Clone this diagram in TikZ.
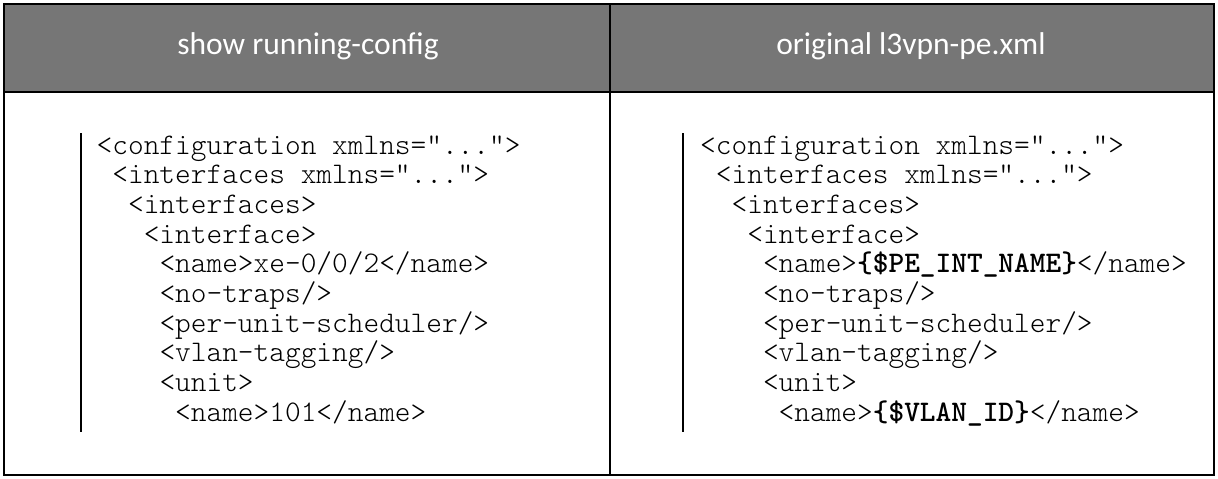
\documentclass[tikz,border=0pt]{standalone}
\usepackage{fontspec}
\setmainfont{Carlito}
\setmonofont{lmmonolt10-regular.otf}[BoldFont=lmmonolt10-bold.otf]
\definecolor{hdrgray}{HTML}{767676}
\begin{document}
\begin{tikzpicture}[x=1pt,y=-1pt,
  hdr/.style={font=\fontsize{31.5}{35}\selectfont, text=white, anchor=base, inner sep=0pt},
  code/.style={font=\ttfamily\fontsize{29.9}{30}\selectfont, anchor=base west, inner sep=0pt},
  frame/.style={line width=2pt, draw=black},
  bar/.style={line width=2pt, draw=black}]
\useasboundingbox (0,0) rectangle (1218,479);
\fill[hdrgray] (4,4) rectangle (1214,92);
\draw[frame] (4,4) rectangle (1214,475);
\draw[frame] (4,92) -- (1214,92);
\draw[frame] (610,4) -- (610,475);
\node[hdr] (h1) at (308,54) {show running-config};
\node[hdr] (h2) at (911,54) {original l3vpn-pe.xml};
\def\ch{15.7}
\def\ls{29.7}
\def\yo{154}
% left column
\coordinate (lbt) at (81,133);
\coordinate (lbb) at (81,432);
\draw[bar] (lbt) -- (lbb);
\node[code] (l1) at (96.5,\yo) {<configuration xmlns="...">};
\node[code] (l2) at (96.5+1*\ch,\yo+1*\ls) {<interfaces xmlns="...">};
\node[code] (l3) at (96.5+2*\ch,\yo+2*\ls) {<interfaces>};
\node[code] (l4) at (96.5+3*\ch,\yo+3*\ls) {<interface>};
\node[code] (l5) at (96.5+4*\ch,\yo+4*\ls) {<name>xe-0/0/2</name>};
\node[code] (l6) at (96.5+4*\ch,\yo+5*\ls) {<no-traps/>};
\node[code] (l7) at (96.5+4*\ch,\yo+6*\ls) {<per-unit-scheduler/>};
\node[code] (l8) at (96.5+4*\ch,\yo+7*\ls) {<vlan-tagging/>};
\node[code] (l9) at (96.5+4*\ch,\yo+8*\ls) {<unit>};
\node[code] (l10) at (96.5+5*\ch,\yo+9*\ls) {<name>101</name>};
% right column
\coordinate (rbt) at (683,133);
\coordinate (rbb) at (683,432);
\draw[bar] (rbt) -- (rbb);
\node[code] (r1) at (700,\yo) {<configuration xmlns="...">};
\node[code] (r2) at (700+1*\ch,\yo+1*\ls) {<interfaces xmlns="...">};
\node[code] (r3) at (700+2*\ch,\yo+2*\ls) {<interfaces>};
\node[code] (r4) at (700+3*\ch,\yo+3*\ls) {<interface>};
\node[code] (r5) at (700+4*\ch,\yo+4*\ls) {<name>\textbf{\{\$PE\_INT\_NAME\}}</name>};
\node[code] (r6) at (700+4*\ch,\yo+5*\ls) {<no-traps/>};
\node[code] (r7) at (700+4*\ch,\yo+6*\ls) {<per-unit-scheduler/>};
\node[code] (r8) at (700+4*\ch,\yo+7*\ls) {<vlan-tagging/>};
\node[code] (r9) at (700+4*\ch,\yo+8*\ls) {<unit>};
\node[code] (r10) at (700+5*\ch,\yo+9*\ls) {<name>\textbf{\{\$VLAN\_ID\}}</name>};
\end{tikzpicture}
\end{document}
